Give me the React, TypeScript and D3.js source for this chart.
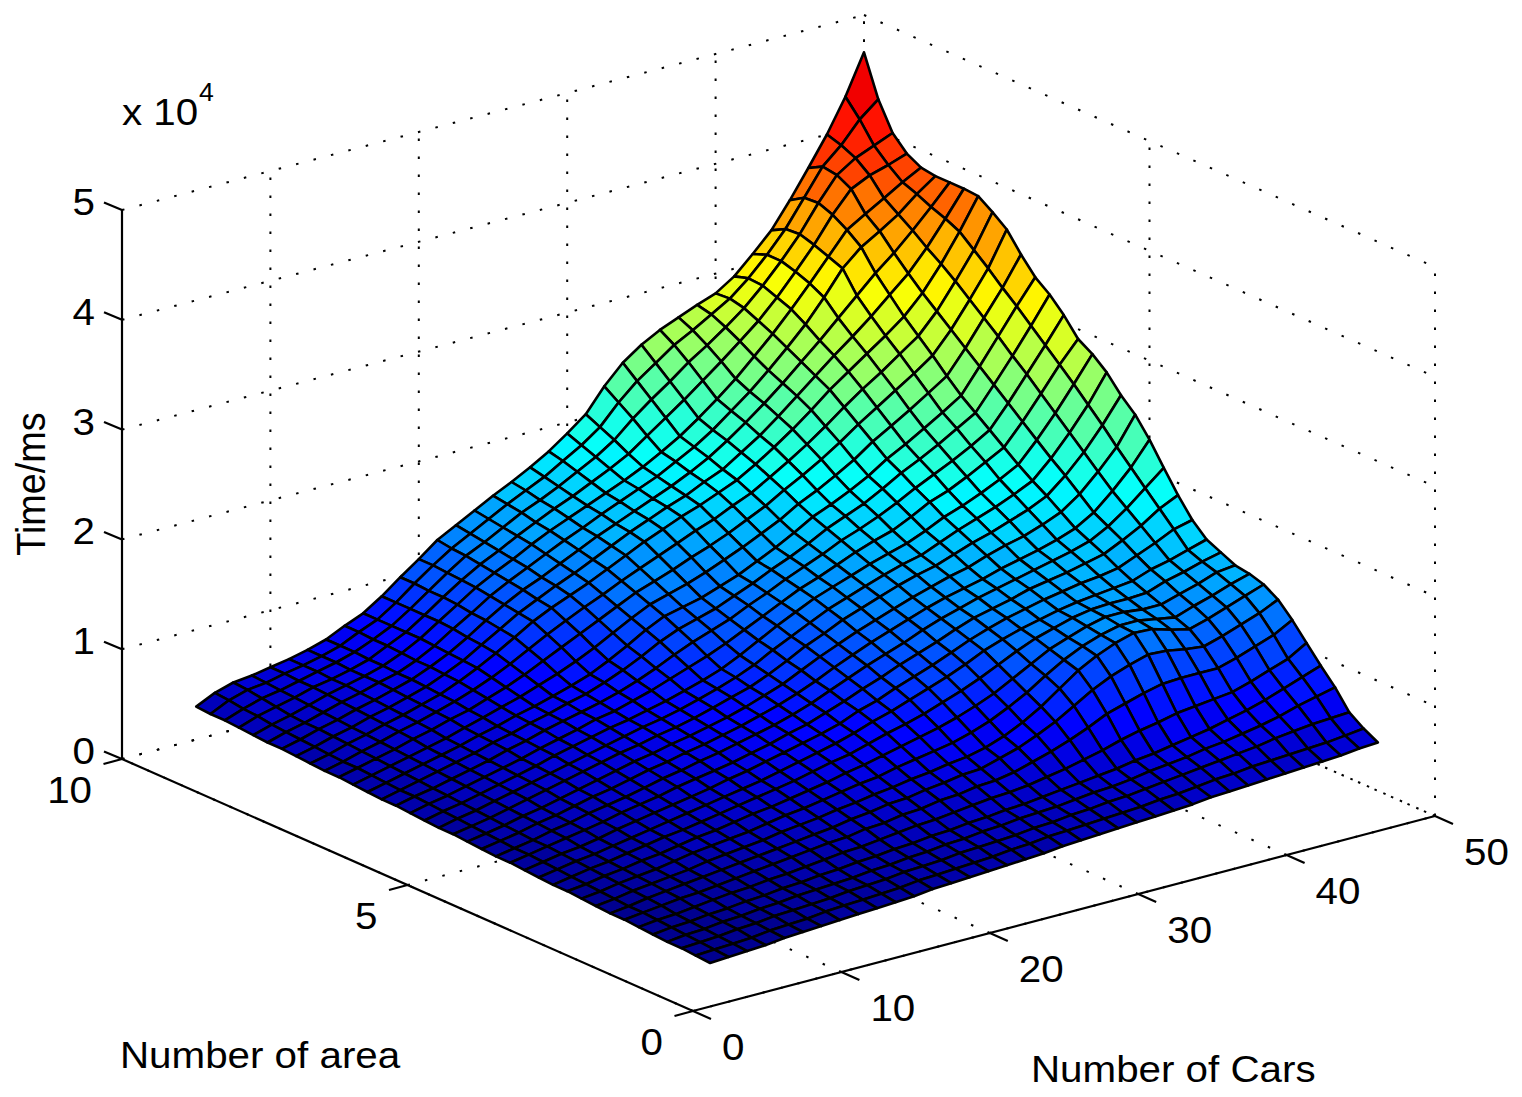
import React from "react";
import * as d3 from "d3";

// Time in units of 100 ms. One row per mesh line of "Number of area".
const timeRows: number[][] = [
[3,4,5,6,8,9,10,11,12,13,14,15,17,18,19,20,21,22,23,25,26,27,28,29,30,31,32,34,35,36,37,38,39,40,41,43,44],
[4,5,6,7,9,10,11,13,14,15,16,17,19,20,21,22,23,25,26,28,29,30,31,32,33,35,36,38,40,41,43,44,45,46,47,49,51],
[5,6,7,9,10,12,13,14,15,17,18,19,21,22,23,25,26,27,28,30,31,33,34,36,37,39,41,43,45,47,49,51,54,56,58,59,60],
[5,7,8,10,11,13,14,16,17,18,19,21,22,24,25,27,28,30,31,33,34,35,37,39,40,42,45,47,49,52,54,57,60,64,69,73,77],
[6,8,9,11,12,14,15,17,18,20,21,23,24,26,27,29,30,32,33,35,36,38,40,42,44,46,49,51,54,57,60,64,68,73,79,85,91],
[7,9,10,12,14,16,17,19,20,22,24,26,27,29,31,33,34,36,38,40,41,43,46,49,53,57,62,66,69,73,75,77,79,84,90,96,106],
[8,10,12,14,15,17,19,21,23,25,27,29,30,33,34,37,38,41,42,45,46,49,54,59,65,72,80,85,90,94,95,95,95,100,106,112,121],
[8,10,13,15,17,19,21,23,25,27,29,31,33,36,38,41,42,45,47,50,51,56,61,68,76,86,96,104,110,115,114,111,109,114,120,126,134],
[9,11,14,16,18,20,23,25,27,29,32,34,36,39,41,44,46,49,51,54,56,60,66,74,84,96,108,117,124,129,128,123,119,124,130,136,142],
[10,12,15,17,19,22,25,27,29,31,34,37,39,42,45,48,50,54,57,60,63,68,74,82,91,102,112,120,126,130,130,127,124,130,135,141,146],
[11,13,16,18,21,23,26,29,31,34,37,39,42,45,48,52,55,59,63,67,71,76,82,89,98,107,116,122,128,132,132,130,130,135,140,146,148],
[11,14,17,19,22,25,28,30,33,36,39,42,45,48,52,56,59,64,69,73,78,84,90,97,105,113,120,125,130,133,134,134,135,141,145,150,154],
[12,15,18,20,23,26,29,32,35,38,41,44,47,51,55,59,63,68,74,79,85,91,97,104,112,118,123,127,131,134,136,138,140,146,150,155,160],
[13,16,19,21,24,28,31,34,37,40,43,47,50,54,58,62,66,71,78,83,90,96,102,109,116,122,127,131,135,138,141,143,146,153,160,168,172],
[14,17,20,23,26,29,33,36,39,43,46,49,52,56,60,65,69,75,81,88,94,101,107,113,120,126,130,134,139,142,145,149,153,161,170,181,189],
[14,17,20,24,27,31,34,37,41,45,48,52,55,59,63,67,72,78,85,92,99,105,111,118,124,129,134,138,142,146,150,154,159,168,180,194,208],
[15,18,21,25,28,32,36,39,43,47,50,54,57,61,65,70,75,81,88,96,103,110,116,122,128,133,137,141,146,150,154,159,165,175,190,207,228],
[16,19,22,26,29,33,37,41,45,49,52,56,59,63,67,72,78,84,92,100,107,114,120,126,132,137,142,146,152,157,161,167,174,186,202,220,245],
[17,20,23,27,31,35,39,43,47,51,54,58,61,65,70,75,80,87,95,104,111,119,125,131,137,142,146,152,158,163,169,175,183,197,214,234,257],
[17,21,24,28,32,36,40,44,48,52,56,60,63,67,72,77,83,90,99,107,115,123,129,135,141,146,150,157,164,170,176,183,191,207,226,247,272],
[18,22,25,29,33,37,41,46,50,54,58,61,65,69,74,79,85,93,102,111,119,127,133,139,145,150,155,162,170,176,183,191,200,218,238,260,283],
[19,23,26,30,34,38,42,47,51,55,60,63,68,73,79,85,91,98,106,114,122,130,136,143,150,156,161,169,178,184,192,201,210,229,250,272,291],
[20,24,27,31,35,39,44,48,53,57,61,65,70,76,83,91,98,104,110,118,125,133,140,147,155,161,168,176,185,193,201,210,220,240,262,284,307],
[20,24,28,32,36,40,45,49,54,58,63,67,73,80,88,97,104,109,114,121,128,136,143,151,160,167,174,183,193,201,210,220,230,251,273,296,320],
[21,25,29,33,37,41,46,50,55,59,64,69,75,83,92,102,110,114,118,124,130,138,146,155,165,172,180,189,200,209,219,229,240,262,285,308,330],
[22,26,30,34,38,42,47,52,57,62,68,74,81,89,98,107,115,120,125,131,138,145,153,161,171,179,188,198,210,220,230,241,252,273,296,319,345],
[23,27,31,35,40,44,49,53,59,65,72,80,88,96,104,112,120,126,132,139,145,152,160,168,178,187,197,208,220,231,242,253,265,284,307,331,362],
[23,27,32,36,41,45,50,55,61,68,76,85,94,102,110,117,125,132,139,146,153,159,167,174,184,194,205,217,230,242,253,265,277,295,318,342,372],
[24,28,33,37,42,46,51,56,63,71,80,90,100,108,115,122,130,138,146,153,160,166,173,180,190,201,213,226,240,252,264,276,289,306,328,353,381],
[25,29,34,38,43,47,52,57,64,72,82,92,102,110,118,125,133,141,149,156,163,169,177,184,195,206,219,233,247,261,274,288,303,318,337,359,382],
[26,30,35,39,44,48,53,58,65,73,83,94,104,113,120,128,136,144,151,158,165,172,180,189,200,212,225,239,254,269,285,301,317,331,347,364,382],
[26,31,35,40,45,49,54,58,65,74,85,95,106,115,123,131,139,146,154,161,168,175,184,193,204,217,230,245,261,278,298,320,335,345,356,370,382],
[27,32,36,41,46,50,54,59,66,75,86,97,108,117,125,134,142,149,156,163,170,178,187,197,209,222,236,252,268,286,305,325,345,355,365,375,384],
[28,34,38,42,47,50,54,59,67,75,86,98,109,119,127,136,144,152,159,167,175,184,196,208,220,233,246,260,274,291,310,330,353,372,380,385,391],
[29,35,40,43,47,51,55,60,67,75,86,98,110,121,129,138,147,154,162,171,180,191,206,219,231,244,255,267,280,296,314,334,358,379,390,397,404],
[29,37,42,44,48,51,55,60,68,75,86,99,111,122,131,140,149,157,165,175,185,197,215,230,242,254,263,273,283,297,314,333,357,381,396,415,429],
[30,38,43,45,48,51,55,60,68,75,86,99,111,124,133,142,151,159,168,178,190,203,224,241,253,262,269,276,282,293,309,326,349,374,400,430,466],
];

const carsTicks = [0, 10, 20, 30, 40, 50];
const areaTicks = [0, 5, 10];
const timeTicks = [0, 1, 2, 3, 4, 5];
const carsLabels = ["0", "10", "20", "30", "40", "50"];
const areaLabels = ["0", "5", "10"];

const carsAt = (c: number) => 5 + 1.25 * c;
const areaAt = (r: number) => 1 + 0.25 * r;
const U = d3.scaleLinear().domain([0, 50]).range([0, 1]);
const V = d3.scaleLinear().domain([0, 10]).range([0, 1]);
const W = d3.scaleLinear().domain([0, 5]).range([0, 1]);
const px = (cars: number, area: number) => 693 + 742 * U(cars) - 571 * V(area);
const py = (cars: number, area: number, t: number) => 1011 - 195 * U(cars) - 252 * V(area) - 549 * W(t);

const jetStops = [0, 1 / 8, 3 / 8, 5 / 8, 7 / 8, 1];
const jetColors = ["#00008f", "#0000ff", "#00ffff", "#ffff00", "#ff0000", "#800000"];
const jet = d3.scaleLinear<string>().domain(jetStops).range(jetColors).interpolate(d3.interpolateRgb);
const allTimes = timeRows.flat();
const zmin = d3.min(allTimes) as number;
const zmax = d3.max(allTimes) as number;
const colorOf = (z: number) => {
  const t = Math.floor(Math.min(0.9999, (z - zmin) / (zmax - zmin)) * 64) / 63;
  return jet(t);
};

const fontFamily = "'Liberation Sans', Arial, sans-serif";
const dot = "2.5 15.5";
const SX = 1.067;

function Label({ x, y, anchor, size, children }: { x: number; y: number; anchor?: "start" | "end" | "middle"; size?: number; children: React.ReactNode }) {
  return <text transform={`translate(${x},${y}) scale(${SX},1)`} textAnchor={anchor ?? "start"} fontSize={size ?? 37.8}>{children}</text>;
}

export default function App() {
  const cells: React.ReactNode[] = [];
  for (let r = timeRows.length - 2; r >= 0; r--) {
    for (let c = timeRows[r].length - 2; c >= 0; c--) {
      const pts = [[c, r], [c + 1, r], [c + 1, r + 1], [c, r + 1]]
        .map(([cc, rr]) => `${px(carsAt(cc), areaAt(rr)).toFixed(1)},${py(carsAt(cc), areaAt(rr), timeRows[rr][cc] / 100).toFixed(1)}`)
        .join(" ");
      cells.push(<polygon key={`${r}-${c}`} points={pts} fill={colorOf(timeRows[r][c])} stroke="#000" strokeWidth={2.6} strokeLinejoin="round" />);
    }
  }
  const dotted = (x1: number, y1: number, x2: number, y2: number, k: string) => (
    <line key={k} x1={x1} y1={y1} x2={x2} y2={y2} stroke="#000" strokeWidth={2} strokeDasharray={dot} />
  );
  const solid = (x1: number, y1: number, x2: number, y2: number, k: string) => (
    <line key={k} x1={x1} y1={y1} x2={x2} y2={y2} stroke="#000" strokeWidth={2.2} />
  );
  return (
    <svg width={1522} height={1097} style={{ position: "absolute", left: 0, top: 0, background: "#fff" }} fontFamily={fontFamily} fill="#000">
      {carsTicks.map((t) => dotted(px(t, 0), py(t, 0, 0), px(t, 10), py(t, 10, 0), `fc${t}`))}
      {areaTicks.map((t) => dotted(px(0, t), py(0, t, 0), px(50, t), py(50, t, 0), `fa${t}`))}
      {carsTicks.map((t) => dotted(px(t, 10), py(t, 10, 0), px(t, 10), py(t, 10, 5), `wc${t}`))}
      {areaTicks.map((t) => dotted(px(50, t), py(50, t, 0), px(50, t), py(50, t, 5), `wa${t}`))}
      {timeTicks.map((t) => dotted(px(0, 10), py(0, 10, t), px(50, 10), py(50, 10, t), `zl${t}`))}
      {timeTicks.map((t) => dotted(px(50, 10), py(50, 10, t), px(50, 0), py(50, 0, t), `zr${t}`))}
      {cells}
      {solid(px(0, 10), py(0, 10, 0), px(0, 0), py(0, 0, 0), "aa")}
      {solid(px(0, 0), py(0, 0, 0), px(50, 0), py(50, 0, 0), "ca")}
      {solid(px(0, 10), py(0, 10, 0), px(0, 10), py(0, 10, 5), "za")}
      {timeTicks.map((t) => solid(px(0, 10), py(0, 10, t), px(0, 10) - 18, py(0, 10, t) - 7.5, `zt${t}`))}
      {areaTicks.map((t) => solid(px(0, t), py(0, t, 0), px(0, t) - 18.5, py(0, t, 0) + 5, `at${t}`))}
      {carsTicks.map((t) => solid(px(t, 0), py(t, 0, 0), px(t, 0) + 18, py(t, 0, 0) + 8, `ct${t}`))}
      {timeTicks.map((t) => (
        <Label key={t} x={95} y={py(0, 10, t) + 5} anchor="end">{t}</Label>
      ))}
      {areaTicks.map((t, i) => (
        <Label key={t} x={px(0, t) - 30} y={py(0, t, 0) + 44} anchor="end">{areaLabels[i]}</Label>
      ))}
      {carsTicks.map((t, i) => (
        <Label key={t} x={px(t, 0) + 29} y={py(t, 0, 0) + 49}>{carsLabels[i]}</Label>
      ))}
      <Label x={122} y={125}>x 10</Label>
      <Label x={199} y={101} size={25}>4</Label>
      <text transform="translate(45,484) rotate(-90) scale(1,1.067)" textAnchor="middle" fontSize={37.8}>Time/ms</text>
      <Label x={120} y={1068}>Number of area</Label>
      <Label x={1031} y={1082}>Number of Cars</Label>
    </svg>
  );
}
